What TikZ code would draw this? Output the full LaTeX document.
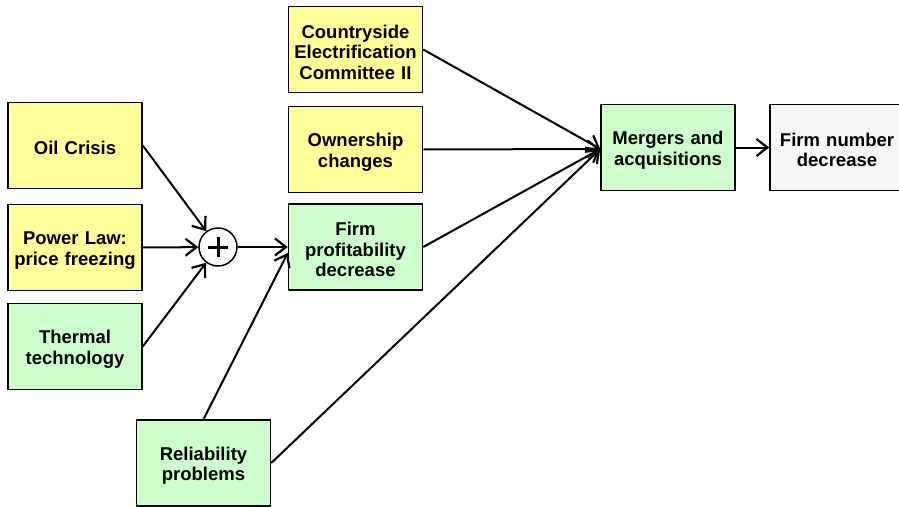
\documentclass[tikz,border=0pt]{standalone}
\usepackage{fontspec}
\setmainfont{Liberation Sans}
\usetikzlibrary{arrows.meta,calc}
\definecolor{boxyellow}{HTML}{FFFF99}
\definecolor{boxgreen}{HTML}{CCFFCC}
\definecolor{boxgrey}{HTML}{F7F7F7}
\begin{document}
\begin{tikzpicture}[x=1pt,y=-1pt,
  box/.style={draw=black, line width=1.5pt, minimum width=134pt, minimum height=86pt,
    inner sep=0pt, align=center, text width=132pt,
    font=\fontsize{18.5}{20.5}\selectfont\bfseries,
    execute at begin node={\rule{0pt}{18.5pt}}},
  ybox/.style={box, fill=boxyellow},
  gbox/.style={box, fill=boxgreen},
  wbox/.style={box, fill=boxgrey},
  link/.style={line width=2pt, -{Straight Barb[length=11pt,width=17pt,line width=2.2pt]}}
]
\useasboundingbox (0,0) rectangle (899,506);
\fill[white] (0,0) rectangle (899,506);

% left column
\node[ybox] (oil) at (75,145.5) {Oil Crisis};
\node[ybox] (pow) at (75,247.5) {Power Law:\\price freezing};
\node[gbox] (thm) at (75,346.5) {Thermal\\technology};

% combining node
\node[circle, draw, line width=1.5pt, minimum size=38pt, inner sep=0pt, fill=white] (plus) at (218,247) {};
\draw[line width=3pt] ($(plus.center)+(-10,0)$) -- ($(plus.center)+(10,0)$);
\draw[line width=3pt] ($(plus.center)+(0,-10)$) -- ($(plus.center)+(0,10)$);

% middle column
\node[ybox] (cs) at (355.5,49.5) {Countryside\\Electrification\\Committee II};
\node[ybox] (own) at (355.5,149.5) {Ownership\\changes};
\node[gbox] (prof) at (355.5,247) {Firm\\profitability\\decrease};
\node[gbox] (rel) at (203.5,463) {Reliability\\problems};

% right column
\node[gbox] (mer) at (668,147.5) {Mergers and\\acquisitions};
\node[wbox] (fnd) at (837,147.5) {Firm number\\decrease};

\coordinate (merin) at ($(mer.west)+(0,1.5)$);
\coordinate (profin) at ($(prof.west)+(0,6)$);

% connectors
\draw[link] (oil.east) -- (plus);
\draw[link] (pow.east) -- (plus);
\draw[link] (thm.east) -- (plus);
\draw[link] (plus) -- (prof.west);
\draw[link] (rel.north) -- (profin);
\draw[link] (cs.east) -- (merin);
\draw[link] (own.east) -- (merin);
\draw[link] (prof.east) -- (merin);
\draw[link] (rel.east) -- (merin);
\draw[link] (mer.east) -- (fnd.west);
\end{tikzpicture}
\end{document}
